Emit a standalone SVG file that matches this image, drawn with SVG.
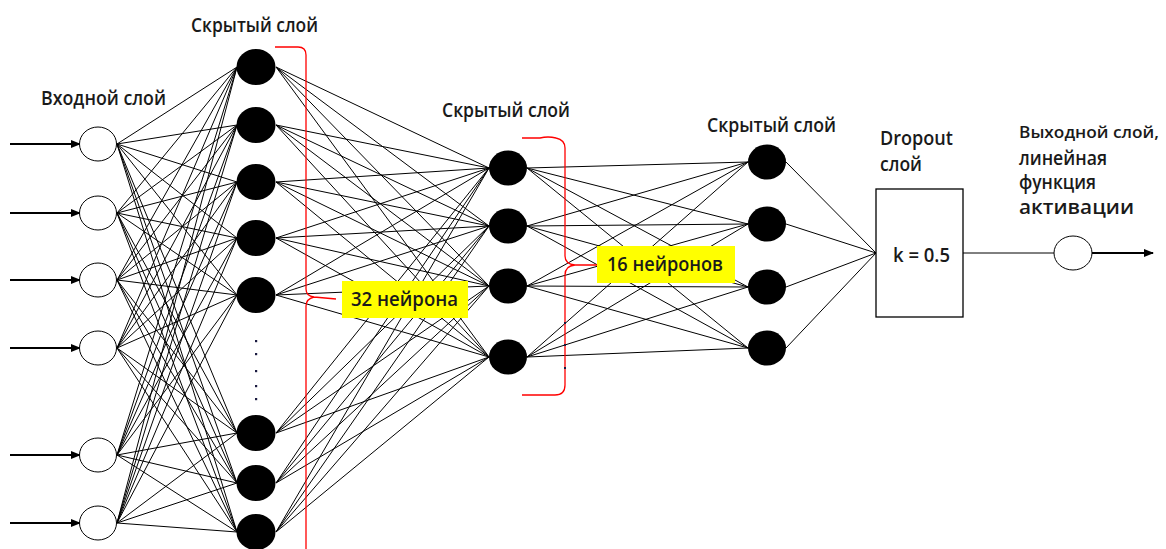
<svg xmlns="http://www.w3.org/2000/svg" width="1166" height="549" viewBox="0 0 1166 549">
<style>
.c{stroke:#000;stroke-width:1;fill:none}
.in{fill:#fff;stroke:#000;stroke-width:1}
.h{fill:#000;stroke:none}
.t{font-family:"Open Sans","DejaVu Sans",sans-serif;font-size:19px;font-weight:600;fill:#1a1a1a}
.br{fill:none;stroke:#ff0000;stroke-width:1.3}
.ar{stroke:#000;stroke-width:2;fill:none}
.lab{fill:#ffff00}
.dot{fill:#1a1a40}
</style>
<defs>
<marker id="ah" markerUnits="userSpaceOnUse" markerWidth="10" markerHeight="8" refX="9" refY="4" orient="auto">
<path d="M0 0L10 4L0 8z" fill="#000"/>
</marker>
</defs>
<rect width="1166" height="549" fill="#fff"/>
<g id="connectors">
<g id="in-h1">
<line class="c" x1="117" y1="144" x2="237" y2="67"/><line class="c" x1="117" y1="144" x2="237" y2="125"/><line class="c" x1="117" y1="144" x2="237" y2="182"/><line class="c" x1="117" y1="144" x2="237" y2="238"/><line class="c" x1="117" y1="144" x2="237" y2="295"/><line class="c" x1="117" y1="144" x2="237" y2="433"/><line class="c" x1="117" y1="144" x2="237" y2="483"/><line class="c" x1="117" y1="144" x2="237" y2="532"/>
<line class="c" x1="117" y1="213" x2="237" y2="67"/><line class="c" x1="117" y1="213" x2="237" y2="125"/><line class="c" x1="117" y1="213" x2="237" y2="182"/><line class="c" x1="117" y1="213" x2="237" y2="238"/><line class="c" x1="117" y1="213" x2="237" y2="295"/><line class="c" x1="117" y1="213" x2="237" y2="433"/><line class="c" x1="117" y1="213" x2="237" y2="483"/><line class="c" x1="117" y1="213" x2="237" y2="532"/>
<line class="c" x1="117" y1="280" x2="237" y2="67"/><line class="c" x1="117" y1="280" x2="237" y2="125"/><line class="c" x1="117" y1="280" x2="237" y2="182"/><line class="c" x1="117" y1="280" x2="237" y2="238"/><line class="c" x1="117" y1="280" x2="237" y2="295"/><line class="c" x1="117" y1="280" x2="237" y2="433"/><line class="c" x1="117" y1="280" x2="237" y2="483"/><line class="c" x1="117" y1="280" x2="237" y2="532"/>
<line class="c" x1="117" y1="348" x2="237" y2="67"/><line class="c" x1="117" y1="348" x2="237" y2="125"/><line class="c" x1="117" y1="348" x2="237" y2="182"/><line class="c" x1="117" y1="348" x2="237" y2="238"/><line class="c" x1="117" y1="348" x2="237" y2="295"/><line class="c" x1="117" y1="348" x2="237" y2="433"/><line class="c" x1="117" y1="348" x2="237" y2="483"/><line class="c" x1="117" y1="348" x2="237" y2="532"/>
<line class="c" x1="117" y1="455" x2="237" y2="67"/><line class="c" x1="117" y1="455" x2="237" y2="125"/><line class="c" x1="117" y1="455" x2="237" y2="182"/><line class="c" x1="117" y1="455" x2="237" y2="238"/><line class="c" x1="117" y1="455" x2="237" y2="295"/><line class="c" x1="117" y1="455" x2="237" y2="433"/><line class="c" x1="117" y1="455" x2="237" y2="483"/><line class="c" x1="117" y1="455" x2="237" y2="532"/>
<line class="c" x1="117" y1="523" x2="237" y2="67"/><line class="c" x1="117" y1="523" x2="237" y2="125"/><line class="c" x1="117" y1="523" x2="237" y2="182"/><line class="c" x1="117" y1="523" x2="237" y2="238"/><line class="c" x1="117" y1="523" x2="237" y2="295"/><line class="c" x1="117" y1="523" x2="237" y2="433"/><line class="c" x1="117" y1="523" x2="237" y2="483"/><line class="c" x1="117" y1="523" x2="237" y2="532"/>
</g>
<g id="h1-h2">
<line class="c" x1="276" y1="67" x2="489" y2="168"/><line class="c" x1="276" y1="67" x2="489" y2="226"/><line class="c" x1="276" y1="67" x2="489" y2="286"/><line class="c" x1="276" y1="67" x2="489" y2="357"/>
<line class="c" x1="276" y1="125" x2="489" y2="168"/><line class="c" x1="276" y1="125" x2="489" y2="226"/><line class="c" x1="276" y1="125" x2="489" y2="286"/><line class="c" x1="276" y1="125" x2="489" y2="357"/>
<line class="c" x1="276" y1="182" x2="489" y2="168"/><line class="c" x1="276" y1="182" x2="489" y2="226"/><line class="c" x1="276" y1="182" x2="489" y2="286"/><line class="c" x1="276" y1="182" x2="489" y2="357"/>
<line class="c" x1="276" y1="238" x2="489" y2="168"/><line class="c" x1="276" y1="238" x2="489" y2="226"/><line class="c" x1="276" y1="238" x2="489" y2="286"/><line class="c" x1="276" y1="238" x2="489" y2="357"/>
<line class="c" x1="276" y1="295" x2="489" y2="168"/><line class="c" x1="276" y1="295" x2="489" y2="226"/><line class="c" x1="276" y1="295" x2="489" y2="286"/><line class="c" x1="276" y1="295" x2="489" y2="357"/>
<line class="c" x1="276" y1="433" x2="489" y2="168"/><line class="c" x1="276" y1="433" x2="489" y2="226"/><line class="c" x1="276" y1="433" x2="489" y2="286"/><line class="c" x1="276" y1="433" x2="489" y2="357"/>
<line class="c" x1="276" y1="483" x2="489" y2="168"/><line class="c" x1="276" y1="483" x2="489" y2="226"/><line class="c" x1="276" y1="483" x2="489" y2="286"/><line class="c" x1="276" y1="483" x2="489" y2="357"/>
<line class="c" x1="276" y1="532" x2="489" y2="168"/><line class="c" x1="276" y1="532" x2="489" y2="226"/><line class="c" x1="276" y1="532" x2="489" y2="286"/><line class="c" x1="276" y1="532" x2="489" y2="357"/>
</g>
<g id="h2-h3">
<line class="c" x1="527" y1="168" x2="748" y2="162"/><line class="c" x1="527" y1="168" x2="748" y2="224"/><line class="c" x1="527" y1="168" x2="748" y2="287"/><line class="c" x1="527" y1="168" x2="748" y2="348"/>
<line class="c" x1="527" y1="226" x2="748" y2="162"/><line class="c" x1="527" y1="226" x2="748" y2="224"/><line class="c" x1="527" y1="226" x2="748" y2="287"/><line class="c" x1="527" y1="226" x2="748" y2="348"/>
<line class="c" x1="527" y1="286" x2="748" y2="162"/><line class="c" x1="527" y1="286" x2="748" y2="224"/><line class="c" x1="527" y1="286" x2="748" y2="287"/><line class="c" x1="527" y1="286" x2="748" y2="348"/>
<line class="c" x1="527" y1="357" x2="748" y2="162"/><line class="c" x1="527" y1="357" x2="748" y2="224"/><line class="c" x1="527" y1="357" x2="748" y2="287"/><line class="c" x1="527" y1="357" x2="748" y2="348"/>
</g>
<g id="h3-dropout">
<line class="c" x1="786" y1="162" x2="876" y2="253"/><line class="c" x1="786" y1="224" x2="876" y2="253"/><line class="c" x1="786" y1="287" x2="876" y2="253"/><line class="c" x1="786" y1="348" x2="876" y2="253"/>
</g>
<line class="c" x1="963" y1="253" x2="1054" y2="253"/>
<g id="input-arrows">
<line class="ar" x1="10" y1="144" x2="80" y2="144" marker-end="url(#ah)"/>
<line class="ar" x1="10" y1="213" x2="80" y2="213" marker-end="url(#ah)"/>
<line class="ar" x1="10" y1="280" x2="80" y2="280" marker-end="url(#ah)"/>
<line class="ar" x1="10" y1="348" x2="80" y2="348" marker-end="url(#ah)"/>
<line class="ar" x1="10" y1="455" x2="80" y2="455" marker-end="url(#ah)"/>
<line class="ar" x1="10" y1="523" x2="80" y2="523" marker-end="url(#ah)"/>
</g>
<line class="ar" x1="1092" y1="253" x2="1153" y2="253" marker-end="url(#ah)"/>
</g>
<g id="input-layer">
<ellipse class="in" cx="98" cy="144" rx="18.5" ry="17"/>
<ellipse class="in" cx="98" cy="213" rx="18.5" ry="17"/>
<ellipse class="in" cx="98" cy="280" rx="18.5" ry="17"/>
<ellipse class="in" cx="98" cy="348" rx="18.5" ry="17"/>
<ellipse class="in" cx="98" cy="455" rx="18.5" ry="17"/>
<ellipse class="in" cx="98" cy="523" rx="18.5" ry="17"/>
</g>
<g id="hidden-1">
<ellipse class="h" cx="256" cy="67" rx="19.5" ry="18"/>
<ellipse class="h" cx="256" cy="125" rx="19.5" ry="18"/>
<ellipse class="h" cx="256" cy="182" rx="19.5" ry="18"/>
<ellipse class="h" cx="256" cy="238" rx="19.5" ry="18"/>
<ellipse class="h" cx="256" cy="295" rx="19.5" ry="18"/>
<ellipse class="h" cx="256" cy="433" rx="19.5" ry="18"/>
<ellipse class="h" cx="256" cy="483" rx="19.5" ry="18"/>
<ellipse class="h" cx="256" cy="532" rx="19.5" ry="18"/>
<rect class="dot" x="255" y="340" width="2.2" height="2.2"/>
<rect class="dot" x="255" y="353" width="2.2" height="2.2"/>
<rect class="dot" x="255" y="370" width="2.2" height="2.2"/>
<rect class="dot" x="255" y="385" width="2.2" height="2.2"/>
<rect class="dot" x="255" y="398" width="2.2" height="2.2"/>
</g>
<g id="hidden-2">
<ellipse class="h" cx="508" cy="168" rx="19" ry="17.5"/>
<ellipse class="h" cx="508" cy="226" rx="19" ry="17.5"/>
<ellipse class="h" cx="508" cy="286" rx="19" ry="17.5"/>
<ellipse class="h" cx="508" cy="357" rx="19" ry="17.5"/>
</g>
<g id="hidden-3">
<ellipse class="h" cx="767" cy="162" rx="19" ry="17.5"/>
<ellipse class="h" cx="767" cy="224" rx="19" ry="17.5"/>
<ellipse class="h" cx="767" cy="287" rx="19" ry="17.5"/>
<ellipse class="h" cx="767" cy="348" rx="19" ry="17.5"/>
</g>
<g id="dropout">
<rect x="876" y="189" width="87" height="128" fill="#fff" stroke="#000" stroke-width="1.3"/>
<text class="t" x="893" y="262" textLength="57" lengthAdjust="spacingAndGlyphs">k = 0.5</text>
</g>
<g id="output">
<ellipse class="in" cx="1073" cy="253" rx="19" ry="17"/>
</g>
<g id="bracket-32">
<path class="br" d="M275 47 L298 47 Q306 47 306 55 L306 289 Q306 296 314 297 L336 299 M314 297 Q306 299 306 306 L306 549"/>
<rect class="lab" x="342" y="281" width="126" height="37"/>
<text class="t" x="351" y="306" textLength="107" lengthAdjust="spacingAndGlyphs">32 нейрона</text>
</g>
<g id="bracket-16">
<path class="br" d="M522 138 L540 138 Q548 136 556 138 Q565 140 565 148 L565 256 Q565 264 575 265 L597 265 M575 265 Q565 266 565 275 L565 385 Q565 395 555 395 L522 395"/>
<rect class="dot" x="564" y="322" width="2" height="2"/>
<rect class="dot" x="564" y="344" width="2" height="2"/>
<rect class="dot" x="564" y="367" width="2" height="2"/>
<rect class="lab" x="597" y="246" width="138" height="37"/>
<text class="t" x="607" y="271" textLength="116" lengthAdjust="spacingAndGlyphs">16 нейронов</text>
</g>
<g id="labels">
<text class="t" x="191" y="32" textLength="127" lengthAdjust="spacingAndGlyphs">Скрытый слой</text>
<text class="t" x="41" y="105" textLength="125" lengthAdjust="spacingAndGlyphs">Входной слой</text>
<text class="t" x="442" y="117" textLength="128" lengthAdjust="spacingAndGlyphs">Скрытый слой</text>
<text class="t" x="707" y="132" textLength="129" lengthAdjust="spacingAndGlyphs">Скрытый слой</text>
<text class="t" x="880" y="145" textLength="73" lengthAdjust="spacingAndGlyphs">Dropout</text>
<text class="t" x="880" y="171" textLength="42" lengthAdjust="spacingAndGlyphs">слой</text>
<text class="t" x="1019" y="138" style="font-size:17px" textLength="140" lengthAdjust="spacingAndGlyphs">Выходной слой,</text>
<text class="t" x="1019" y="165" textLength="88" lengthAdjust="spacingAndGlyphs">линейная</text>
<text class="t" x="1019" y="189" textLength="77" lengthAdjust="spacingAndGlyphs">функция</text>
<text class="t" x="1019" y="214" textLength="115" lengthAdjust="spacingAndGlyphs">активации</text>
</g>
</svg>
